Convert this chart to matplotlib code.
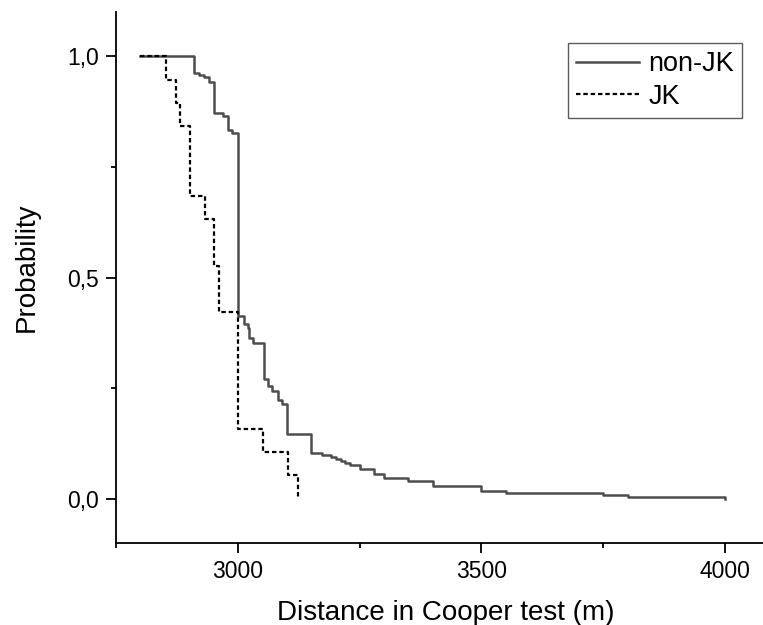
import matplotlib
matplotlib.use("Agg")
import matplotlib.pyplot as plt
from matplotlib.ticker import MultipleLocator, FuncFormatter

plt.rcParams['font.family'] = ['Liberation Sans', 'DejaVu Sans']

# Kaplan-Meier style step data (distance in m, probability)
nonjk_x = [2800, 2910, 2921, 2930, 2941, 2951, 2970, 2979, 2988, 3000, 3012, 3020, 3022,
           3032, 3053, 3061, 3071, 3082, 3090, 3101, 3150, 3172, 3191, 3201, 3211, 3221,
           3230, 3250, 3280, 3300, 3350, 3400, 3500, 3550, 3750, 3800, 4000]
nonjk_y = [1.0, 0.963, 0.958, 0.952, 0.942, 0.871, 0.865, 0.834, 0.827, 0.414, 0.394, 0.386,
           0.363, 0.353, 0.270, 0.255, 0.243, 0.224, 0.215, 0.146, 0.104, 0.100, 0.095, 0.090,
           0.085, 0.080, 0.076, 0.068, 0.056, 0.048, 0.040, 0.029, 0.017, 0.012, 0.008, 0.003, 0.0]

jk_x = [2800, 2853, 2873, 2882, 2901, 2932, 2952, 2962, 3000, 3052, 3103, 3123]
jk_y = [1.0, 0.947, 0.895, 0.842, 0.684, 0.632, 0.526, 0.421, 0.158, 0.105, 0.053, 0.0]

labels = ["non-JK", "JK"]
x_label = "Distance in Cooper test (m)"
y_label = "Probability"

fig = plt.figure(figsize=(7.63, 6.25), dpi=100)
ax = fig.add_axes([116/763, 1 - 543/625, 1 - 116/763, (543 - 12)/625])

ax.step(nonjk_x, nonjk_y, where='post', color='#4d4d4d', lw=1.8, label=labels[0])
ax.step(jk_x, jk_y, where='post', color='black', lw=1.6, linestyle=(0, (2.0, 1.3)), label=labels[1])

ax.set_xlim(2750, 4078)
ax.set_ylim(-0.1, 1.1)

ax.spines['top'].set_visible(False)
ax.spines['right'].set_visible(False)
for s in ['left', 'bottom']:
    ax.spines[s].set_linewidth(1.3)

ax.xaxis.set_major_locator(MultipleLocator(500))
ax.xaxis.set_minor_locator(MultipleLocator(250))
ax.yaxis.set_major_locator(MultipleLocator(0.5))
ax.yaxis.set_minor_locator(MultipleLocator(0.25))
ax.yaxis.set_major_formatter(FuncFormatter(lambda v, p: f"{v:.1f}".replace('.', ',')))

ax.tick_params(which='major', direction='out', length=7, width=1.3, labelsize=16.5, pad=5)
ax.tick_params(which='minor', direction='out', length=3.8, width=1.3)

ax.set_xlabel(x_label, fontsize=20)
ax.set_ylabel(y_label, fontsize=20)
ax.yaxis.set_label_coords(-0.1175, 0.52)
ax.xaxis.set_label_coords(0.51, -0.108)

leg = ax.legend(loc='upper right', bbox_to_anchor=(0.9675, 0.9416), borderaxespad=0,
                fontsize=19.5, frameon=True, fancybox=False, handlelength=2.3,
                handletextpad=0.35, labelspacing=0.25, borderpad=0.3)
leg.get_frame().set_edgecolor('#333333')
leg.get_frame().set_linewidth(1.0)

fig.savefig("out.png", dpi=100)
